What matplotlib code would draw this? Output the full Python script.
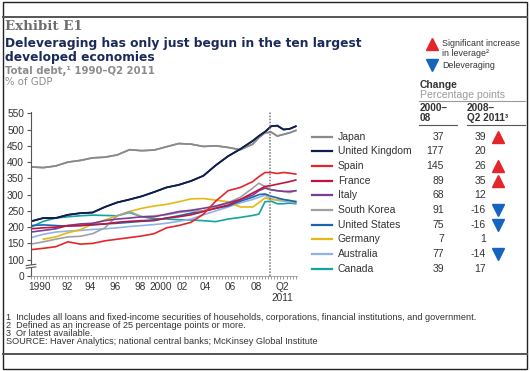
import numpy as np
import matplotlib
matplotlib.use("Agg")
import matplotlib.pyplot as plt
from matplotlib.lines import Line2D
from matplotlib.patches import Rectangle

plt.rcParams['font.family'] = ['Liberation Sans', 'DejaVu Sans']

# data (% of GDP)
years = [1990, 1991, 1992, 1993, 1994, 1995, 1996, 1997, 1998, 1999, 2000,
         2001, 2002, 2003, 2004, 2005, 2006, 2007, 2008,
         2008.5, 2009, 2009.5, 2010, 2010.5, 2011, 2011.5]

japan = [385, 383, 388, 400, 405, 413, 415, 422, 438, 435, 437,
         447, 457, 455, 448, 450, 445, 438, 455,
         475, 490, 492, 480, 485, 490, 497]
uk = [218, 228, 228, 238, 243, 245, 262, 276, 285, 295, 308,
      322, 330, 342, 358, 390, 418, 440, 465,
      480, 493, 510, 512, 500, 502, 510]
spain = [131, 135, 140, 155, 148, 150, 158, 163, 168, 173, 180,
         198, 205, 215, 240, 280, 312, 322, 340,
         355, 368, 368, 365, 368, 366, 363]
france = [195, 198, 200, 205, 205, 208, 210, 215, 218, 220, 222,
          228, 232, 238, 248, 258, 268, 285, 305,
          315, 325, 328, 332, 336, 340, 345]
italy = [185, 190, 195, 205, 210, 212, 220, 225, 228, 232, 232,
         240, 248, 252, 258, 265, 275, 285, 298,
         312, 320, 315, 312, 310, 310, 312]
korea = [148, 155, 163, 170, 172, 180, 198, 235, 248, 232, 235,
         238, 245, 250, 250, 262, 275, 292, 320,
         335, 325, 315, 312, 310, 306, 312]
us = [205, 207, 205, 203, 205, 207, 210, 212, 215, 218, 220,
      228, 235, 243, 250, 258, 265, 280, 292,
      300, 302, 295, 290, 285, 282, 278]
germany = [np.nan, 163, 170, 183, 192, 210, 222, 235, 248, 258, 265,
           270, 278, 287, 288, 283, 278, 262, 262,
           275, 290, 285, 284, 285, 282, 280]
australia = [168, 178, 185, 188, 190, 193, 195, 198, 202, 205, 208,
             212, 218, 225, 238, 250, 262, 275, 285,
             292, 298, 288, 282, 280, 278, 275]
canada = [200, 218, 228, 232, 235, 237, 236, 235, 245, 232, 226,
          225, 223, 222, 220, 217, 225, 230, 236,
          240, 278, 280, 272, 272, 274, 272]

countries = ['Japan', 'United Kingdom', 'Spain', 'France', 'Italy',
             'South Korea', 'United States', 'Germany', 'Australia', 'Canada']
series = [japan, uk, spain, france, italy, korea, us, germany, australia, canada]
colors = ['#8a8a8a', '#0e1f4d', '#e3262b', '#c3123d', '#7a3d96',
          '#a0a0a0', '#1a64b0', '#e6b813', '#8fb3e8', '#13a3a3']
chg_2000_08 = ['37', '177', '145', '89', '68', '91', '75', '7', '77', '39']
chg_2008_11 = ['39', '20', '26', '35', '12', '-16', '-16', '1', '-14', '17']
signal = ['up', '', 'up', 'up', '', 'down', 'down', '', 'down', '']

x_labels = ['1990', '92', '94', '96', '98', '2000', '02', '04', '06', '08', 'Q2\n2011']
x_label_pos = [1990.73, 1992.92, 1994.79, 1996.81, 1998.84, 2000.54,
               2002.25, 2004.11, 2006.14, 2008.33, 2010.44]
y_ticks = [50, 100, 150, 200, 250, 300, 350, 400, 450, 500, 550]
y_labels = ['0', '100', '150', '200', '250', '300', '350', '400', '450', '500', '550']

W, H = 530, 371
fig = plt.figure(figsize=(W / 100, H / 100), dpi=100)


def fx(px):
    return px / W


def fy(py):
    return 1 - py / H


TXT = '#333333'

# frame
fig.add_artist(Rectangle((fx(3), fy(369)), fx(524), 367 / H, fill=False,
                         ec='#222222', lw=1.0, transform=fig.transFigure))
fig.add_artist(Line2D([fx(3), fx(527)], [fy(17), fy(17)], color='#555555', lw=1.4))
fig.add_artist(Line2D([fx(3), fx(527)], [fy(354), fy(354)], color='#555555', lw=1.4))

# headings
fig.text(fx(5), fy(26), 'Exhibit E1', family='DejaVu Serif', weight='bold',
         fontsize=9.6, color='#6e6e6e', va='center')
fig.text(fx(5), fy(44), 'Deleveraging has only just begun in the ten largest',
         family='DejaVu Sans', weight='bold', fontsize=8.8, color='#1b2a5c', va='center')
fig.text(fx(5), fy(58), 'developed economies', family='DejaVu Sans', weight='bold',
         fontsize=8.8, color='#1b2a5c', va='center')
fig.text(fx(5), fy(71), 'Total debt,\u00b9 1990\u2013Q2 2011', family='DejaVu Sans',
         weight='bold', fontsize=7.3, color='#8c8c8c', va='center')
fig.text(fx(5), fy(82), '% of GDP', family='DejaVu Sans', fontsize=7.3,
         color='#8c8c8c', va='center')

# chart
ax = fig.add_axes([fx(31), fy(276), fx(297) - fx(31), (276 - 110) / H])
for s, c in zip(series[::-1], colors[::-1]):
    ax.plot(years, s, color=c, lw=1.2, solid_joinstyle='round')
# redraw the top two so they sit above the bundle
ax.plot(years, japan, color=colors[0], lw=1.2)
ax.plot(years, uk, color=colors[1], lw=1.3)

ax.vlines(2009.4, 50, 555, color='#777777', lw=1.1, linestyles=(0, (1, 1)))

ax.set_xlim(1990, 2011.6)
ax.set_ylim(50, 560)
ax.set_yticks(y_ticks)
ax.set_yticklabels(y_labels)
ax.set_xticks(x_label_pos)
ax.set_xticklabels(x_labels)
ax.set_xticks(np.arange(1990, 2011.6, 0.25), minor=True)
ax.tick_params(axis='x', which='major', length=0, pad=4, labelsize=7.3, labelcolor=TXT)
ax.tick_params(axis='x', which='minor', length=2.2, width=0.6, color='#888888')
ax.tick_params(axis='y', length=3, width=0.8, color='#555555', pad=2,
               labelsize=7.3, labelcolor=TXT)
for side in ['top', 'right']:
    ax.spines[side].set_visible(False)
ax.spines['left'].set_color('#555555')
ax.spines['left'].set_bounds(50, 555)
ax.spines['bottom'].set_color('#999999')
ax.spines['bottom'].set_linewidth(0.6)

# axis break
tr = ax.get_yaxis_transform()
ax.add_patch(Rectangle((-0.02, 76), 0.04, 8, transform=tr, fc='white',
                       ec='none', clip_on=False, zorder=5))
for y0 in (74, 82):
    ax.plot([-0.018, 0.018], [y0, y0 + 4], transform=tr, color='#555555',
            lw=0.8, clip_on=False, zorder=6)

# legend table
row0, step = 136.7, 14.67
for i, name in enumerate(countries):
    y = row0 + i * step
    fig.add_artist(Line2D([fx(312), fx(332)], [fy(y), fy(y)], color=colors[i], lw=1.6))
    fig.text(fx(338), fy(y), name, fontsize=7.5, color=TXT, va='center')
    fig.text(fx(444), fy(y), chg_2000_08[i], fontsize=7.5, color=TXT,
             va='center', ha='right')
    fig.text(fx(486), fy(y), chg_2008_11[i], fontsize=7.5, color=TXT,
             va='center', ha='right')
    if signal[i] == 'up':
        fig.add_artist(Line2D([fx(498)], [fy(y)], marker='^', ms=8.5,
                              color='#e3262b', lw=0))
    elif signal[i] == 'down':
        fig.add_artist(Line2D([fx(498)], [fy(y)], marker='v', ms=8.5,
                              color='#1565c0', lw=0))

# key and column headers
fig.add_artist(Line2D([fx(432)], [fy(44)], marker='^', ms=8.5, color='#e3262b', lw=0))
fig.text(fx(442), fy(43), 'Significant increase', fontsize=6.4, color=TXT, va='center')
fig.text(fx(442), fy(53), 'in leverage\u00b2', fontsize=6.4, color=TXT, va='center')
fig.add_artist(Line2D([fx(432)], [fy(65)], marker='v', ms=8.5, color='#1565c0', lw=0))
fig.text(fx(442), fy(65), 'Deleveraging', fontsize=6.4, color=TXT, va='center')

fig.text(fx(420), fy(85), 'Change', fontsize=7.4, weight='bold', color=TXT, va='center')
fig.text(fx(420), fy(95), 'Percentage points', fontsize=7.6, color='#9a9a9a', va='center')
fig.add_artist(Line2D([fx(419), fx(525)], [fy(101), fy(101)], color='#999999', lw=0.8))
fig.text(fx(420), fy(108), '2000\u2013', fontsize=7.2, weight='bold', color=TXT, va='center')
fig.text(fx(420), fy(118), '08', fontsize=7.2, weight='bold', color=TXT, va='center')
fig.text(fx(467), fy(108), '2008\u2013', fontsize=7.2, weight='bold', color=TXT, va='center')
fig.text(fx(467), fy(118), 'Q2 2011\u00b3', fontsize=7.2, weight='bold', color=TXT, va='center')
fig.add_artist(Line2D([fx(419), fx(457)], [fy(125), fy(125)], color='#555555', lw=0.8))
fig.add_artist(Line2D([fx(467), fx(525)], [fy(125), fy(125)], color='#555555', lw=0.8))

# footnotes
notes = [
    (317, '1  Includes all loans and fixed-income securities of households, '
          'corporations, financial institutions, and government.'),
    (325, '2  Defined as an increase of 25 percentage points or more.'),
    (333, '3  Or latest available.'),
    (342, 'SOURCE: Haver Analytics; national central banks; McKinsey Global Institute'),
]
for y, t in notes:
    fig.text(fx(6), fy(y), t, fontsize=6.6, color=TXT, va='center')

fig.savefig('out.png', dpi=100)
